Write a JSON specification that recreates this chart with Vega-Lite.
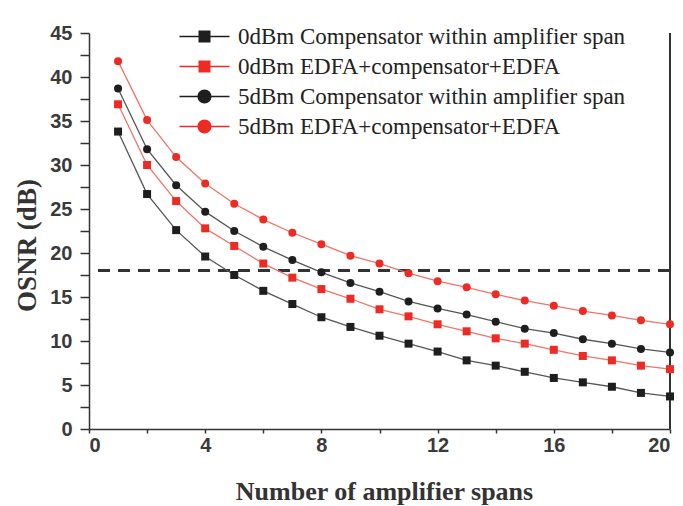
{
  "$schema": "https://vega.github.io/schema/vega-lite/v6.json",
  "width": 581,
  "height": 396,
  "autosize": {"type": "none"},
  "padding": {"left": 89, "top": 33, "right": 13, "bottom": 77},
  "background": "#ffffff",
  "config": {
    "view": {"stroke": null},
    "axis": {
      "domainColor": "#333333", "domainWidth": 1.5,
      "tickColor": "#333333", "tickWidth": 1.5,
      "grid": false,
      "labelFont": "Liberation Sans", "labelFontWeight": "bold", "labelFontSize": 20, "labelColor": "#3a3a3a",
      "titleFont": "Liberation Serif", "titleFontWeight": "bold", "titleColor": "#333333"
    }
  },
  "data": {
    "values": [
      {"x": 1, "A": 33.8, "B": 36.9, "C": 38.7, "D": 41.8},
      {"x": 2, "A": 26.7, "B": 30.0, "C": 31.8, "D": 35.1},
      {"x": 3, "A": 22.6, "B": 25.9, "C": 27.7, "D": 30.9},
      {"x": 4, "A": 19.6, "B": 22.8, "C": 24.7, "D": 27.9},
      {"x": 5, "A": 17.5, "B": 20.8, "C": 22.5, "D": 25.6},
      {"x": 6, "A": 15.7, "B": 18.8, "C": 20.7, "D": 23.8},
      {"x": 7, "A": 14.2, "B": 17.2, "C": 19.2, "D": 22.3},
      {"x": 8, "A": 12.7, "B": 15.9, "C": 17.8, "D": 21.0},
      {"x": 9, "A": 11.6, "B": 14.8, "C": 16.6, "D": 19.7},
      {"x": 10, "A": 10.6, "B": 13.6, "C": 15.6, "D": 18.8},
      {"x": 11, "A": 9.7, "B": 12.8, "C": 14.5, "D": 17.7},
      {"x": 12, "A": 8.8, "B": 11.9, "C": 13.7, "D": 16.8},
      {"x": 13, "A": 7.8, "B": 11.1, "C": 13.0, "D": 16.1},
      {"x": 14, "A": 7.2, "B": 10.3, "C": 12.2, "D": 15.3},
      {"x": 15, "A": 6.5, "B": 9.7, "C": 11.4, "D": 14.6},
      {"x": 16, "A": 5.8, "B": 9.0, "C": 10.9, "D": 14.0},
      {"x": 17, "A": 5.3, "B": 8.3, "C": 10.2, "D": 13.4},
      {"x": 18, "A": 4.8, "B": 7.8, "C": 9.7, "D": 12.9},
      {"x": 19, "A": 4.1, "B": 7.2, "C": 9.1, "D": 12.35},
      {"x": 20, "A": 3.7, "B": 6.8, "C": 8.7, "D": 11.9}
    ]
  },
  "transform": [
    {"fold": ["A", "B", "C", "D"], "as": ["key", "osnr"]},
    {"lookup": "key", "from": {"data": {"values": [
      {"key": "A", "series": "0dBm Compensator within amplifier span"},
      {"key": "B", "series": "0dBm EDFA+compensator+EDFA"},
      {"key": "C", "series": "5dBm Compensator within amplifier span"},
      {"key": "D", "series": "5dBm EDFA+compensator+EDFA"}
    ]}, "key": "key", "fields": ["series"]}}
  ],
  "layer": [
    {
      "mark": {"type": "rule", "strokeDash": [12, 8], "strokeWidth": 2, "color": "#333333"},
      "encoding": {"y": {"datum": 18, "type": "quantitative"}}
    },
    {
      "mark": {"type": "rule", "strokeWidth": 1.5, "color": "#333333"},
      "encoding": {"x": {"datum": 20, "type": "quantitative"}}
    },
    {
      "mark": {"type": "line", "strokeWidth": 1.3},
      "encoding": {
        "x": {"field": "x", "type": "quantitative"},
        "y": {"field": "osnr", "type": "quantitative"},
        "stroke": {
          "field": "key", "type": "nominal", "legend": null,
          "scale": {"domain": ["A", "B", "C", "D"], "range": ["#555555", "#f07468", "#555555", "#f07468"]}
        }
      }
    },
    {
      "mark": {"type": "point", "filled": true, "opacity": 1},
      "encoding": {
        "x": {"field": "x", "type": "quantitative"},
        "y": {"field": "osnr", "type": "quantitative"},
        "size": {
          "field": "key", "type": "nominal", "legend": null,
          "scale": {"domain": ["A", "B", "C", "D"], "range": [64, 64, 100, 100]}
        },
        "shape": {
          "field": "key", "type": "nominal", "legend": null,
          "scale": {"domain": ["A", "B", "C", "D"], "range": ["square", "square", "circle", "circle"]}
        },
        "color": {
          "field": "series", "type": "nominal",
          "scale": {
            "domain": ["0dBm Compensator within amplifier span", "0dBm EDFA+compensator+EDFA", "5dBm Compensator within amplifier span", "5dBm EDFA+compensator+EDFA"],
            "range": ["#1e1e1e", "#ee2a24", "#1e1e1e", "#ee2a24"]
          },
          "legend": {
            "title": null,
            "orient": "none",
            "legendX": 104,
            "legendY": -8,
            "padding": 0,
            "rowPadding": 6,
            "labelOffset": 22,
            "labelFont": "Liberation Serif",
            "labelFontSize": 23,
            "labelColor": "#222222",
            "labelLimit": 500,
            "symbolSize": 400,
            "symbolStrokeWidth": 0,
            "symbolType": {"expr": "indexof(datum.value, '5dBm') == 0 ? 'M-2.5,-0.07H2.5V0.07H-2.5Z M-0.7,0A0.7,0.7,0,1,1,0.7,0A0.7,0.7,0,1,1,-0.7,0Z' : 'M-2.5,-0.07H2.5V0.07H-2.5Z M-0.6,-0.6H0.6V0.6H-0.6Z'"}
          }
        }
      }
    }
  ],
  "encoding": {
    "x": {
      "type": "quantitative",
      "scale": {"domain": [0, 20], "nice": false},
      "axis": {
        "title": "Number of amplifier spans",
        "titleFontSize": 26,
        "values": [0, 2, 4, 6, 8, 10, 12, 14, 16, 18, 20],
        "labelExpr": "datum.value % 4 == 0 ? datum.label : ''",
        "tickSize": 4,
        "labelPadding": 2,
        "titleY": 70,
        "titleX": 295,
        "titleBaseline": "alphabetic"
      }
    },
    "y": {
      "type": "quantitative",
      "scale": {"domain": [0, 45], "nice": false},
      "axis": {
        "title": "OSNR (dB)",
        "titleFontSize": 27,
        "values": [0, 2.5, 5, 7.5, 10, 12.5, 15, 17.5, 20, 22.5, 25, 27.5, 30, 32.5, 35, 37.5, 40, 42.5, 45],
        "labelExpr": "datum.value % 5 == 0 ? datum.label : ''",
        "tickSize": 9,
        "labelPadding": 8,
        "encode": {
          "ticks": {
            "x2": {"value": {"expr": "datum.value % 5 == 0 ? -9 : -4"}}
          }
        },
        "titleX": -62,
        "titleY": 212,
        "titleAngle": -90,
        "titleAlign": "center",
        "titleBaseline": "middle"
      }
    }
  }
}
